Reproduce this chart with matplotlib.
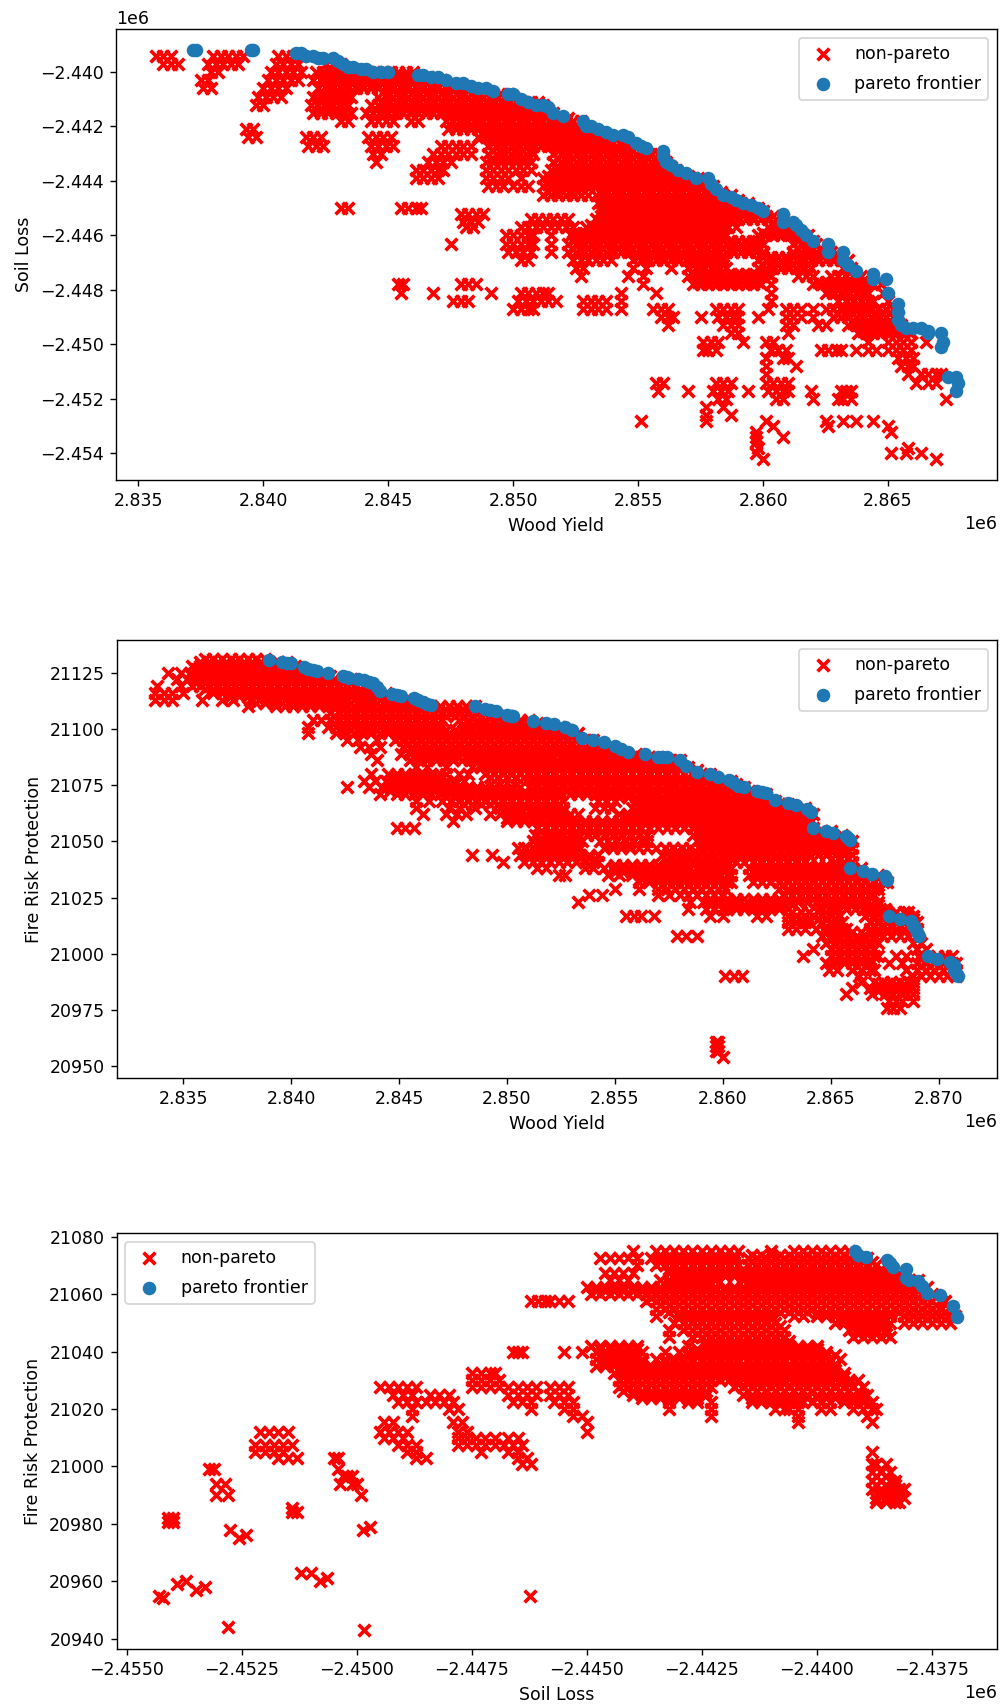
import numpy as np
import matplotlib.pyplot as plt

# values, kept as offsets to stay short
# panel 1: wood = 2.8e6 + v*100, soil = -2.4e6 - w*100
soil_levels_1 = [394, 397, 400, 403, 406, 409, 412, 415, 418, 421, 424, 427, 430, 433, 436, 439, 442, 445, 448, 450,
                 451, 452, 454, 455, 457, 460, 463, 466, 469, 472, 475, 478, 481, 484, 487, 490, 493, 496, 499, 502,
                 505, 508, 511, 514, 517, 520, 523, 526, 528, 530, 532, 534, 536, 538, 540, 542]
wood_rows_1 = [
    [357, 360, 363, 380, 383, 386, 389, 392, 406, 409, 412, 415],
    [360, 363, 366, 378, 381, 384, 387, 390, 405, 408, 411, 414, 425, 428, 431],
    [379, 382, 403, 406, 409, 412, 415, 421, 424, 427, 430, 433, 436, 439, 442, 445, 448, 451, 454, 457, 460],
    [375, 378, 402, 405, 408, 411, 414, 420, 423, 426, 429, 432, 435, 438, 441, 444, 447, 450, 453, 456, 459, 462, 465, 468, 471],
    [376, 379, 400, 403, 406, 409, 422, 425, 428, 431, 434, 437, 440, 443, 446, 449, 452, 455, 458, 461, 464, 467, 470, 473, 476, 479, 482],
    [398, 401, 404, 407, 420, 423, 426, 429, 432, 435, 446, 449, 452, 455, 458, 461, 464, 467, 470, 473, 476, 479, 482, 485, 488, 491, 494, 497, 500],
    [397, 400, 419, 422, 425, 428, 431, 434, 443, 446, 449, 452, 455, 458, 461, 464, 467, 470, 473, 476, 479, 482, 485, 488, 491, 494, 497, 500, 503, 506, 509, 512],
    [420, 423, 426, 429, 432, 435, 441, 444, 447, 450, 453, 456, 459, 462, 465, 468, 471, 474, 477, 480, 483, 486, 489, 492, 495, 498, 501, 504, 507, 510, 513, 516],
    [431, 434, 443, 446, 449, 452, 459, 462, 473, 476, 479, 482, 485, 488, 491, 494, 497, 500, 503, 506, 509, 512, 515, 518, 521, 524, 527],
    [393, 396, 474, 477, 480, 483, 486, 489, 492, 495, 498, 501, 504, 507, 510, 513, 516, 519, 522, 525, 528, 530],
    [394, 397, 417, 420, 423, 442, 445, 448, 451, 486, 489, 492, 495, 498, 501, 504, 507, 510, 513, 516, 519, 522, 525, 528, 531, 534, 537],
    [418, 421, 424, 443, 446, 449, 452, 471, 474, 477, 480, 483, 490, 493, 496, 499, 502, 505, 508, 511, 514, 517, 520, 523, 526, 529, 532, 535, 538, 541, 544, 546],
    [444, 447, 468, 471, 474, 477, 480, 483, 490, 493, 496, 499, 502, 505, 508, 516, 519, 522, 525, 528, 531, 534, 537, 540, 543, 546, 549, 552, 555, 558],
    [445, 466, 469, 472, 475, 489, 492, 495, 498, 501, 504, 507, 516, 519, 522, 525, 528, 531, 534, 537, 540, 543, 546, 549, 552, 555, 558, 561],
    [461, 464, 467, 470, 472, 489, 492, 495, 498, 501, 504, 507, 515, 518, 521, 524, 527, 530, 533, 536, 539, 542, 545, 548, 551, 554, 557, 560, 563, 565],
    [461, 464, 467, 470, 489, 492, 495, 498, 503, 512, 515, 518, 521, 524, 527, 530, 533, 536, 539, 542, 545, 548, 551, 554, 557, 560, 563, 566, 569, 572, 574],
    [490, 493, 496, 500, 503, 506, 512, 515, 518, 521, 524, 527, 530, 533, 536, 539, 542, 545, 548, 551, 554, 557, 560, 563, 566, 569, 572, 575, 578, 580],
    [512, 515, 518, 521, 524, 527, 530, 533, 536, 539, 542, 545, 548, 551, 554, 557, 560, 563, 566, 569, 572, 575, 578, 581, 584, 587],
    [534, 537, 540, 543, 546, 549, 552, 555, 558, 561, 564, 567, 570, 573, 576, 579, 582, 585, 588, 591, 594],
    [431, 434, 455, 458, 461, 463],
    [535, 538, 541, 544, 547, 550, 553, 556, 559, 562, 565, 568, 571, 574, 577, 580, 583, 586, 589, 592, 595, 598, 600],
    [479, 482, 485, 488],
    [507, 510, 513, 516, 519, 522, 533, 536, 539, 542, 545, 548, 551, 554, 557, 560, 563, 566, 569, 572, 575, 578, 581, 584, 587, 590, 593, 596, 599, 602, 605, 608],
    [480, 483, 486],
    [481, 484, 503, 506, 509, 512, 515, 518, 521, 524, 529, 532, 535, 538, 541, 544, 547, 550, 553, 556, 559, 562, 565, 568, 571, 574, 577, 580, 583, 586, 589, 602, 605, 608, 611],
    [497, 500, 503, 506, 508, 515, 523, 526, 529, 532, 535, 538, 541, 544, 547, 550, 553, 556, 559, 562, 565, 568, 571, 574, 577, 580, 583, 585, 598, 601, 604, 607, 610, 613, 616, 618],
    [475, 497, 500, 503, 506, 508, 515, 522, 525, 528, 531, 534, 537, 540, 543, 546, 549, 552, 555, 558, 561, 564, 567, 570, 573, 576, 579, 582, 585, 588, 591, 594, 597, 600, 612, 615, 618, 621],
    [498, 501, 504, 507, 515, 522, 525, 528, 531, 534, 537, 540, 543, 546, 549, 552, 555, 558, 561, 564, 567, 570, 573, 576, 579, 582, 585, 588, 591, 594, 597, 600, 612, 615, 618, 621, 624, 627],
    [503, 506, 524, 527, 530, 533, 536, 539, 548, 551, 554, 557, 560, 563, 566, 569, 572, 575, 578, 581, 584, 598, 601, 604, 607, 610, 613, 616, 619, 622, 625, 628, 631, 634],
    [525, 528, 548, 553, 563, 570, 573, 576, 579, 582, 585, 598, 601, 604, 607, 610, 613, 616, 619, 632, 635],
    [527, 546, 552, 570, 573, 576, 579, 582, 585, 588, 591, 594, 597, 600, 603, 614, 617, 620, 627, 630, 633, 636, 639],
    [454, 456, 479, 482, 485, 552, 572, 575, 578, 581, 584, 587, 590, 593, 596, 599, 603, 620, 623, 626, 629, 632, 635, 638, 641, 644, 647],
    [455, 468, 491, 503, 506, 509, 512, 514, 543, 557, 603, 625, 628, 631, 634, 637, 640, 642, 648],
    [476, 479, 482, 502, 505, 508, 511, 514, 517, 528, 531, 534, 537, 543, 603, 630, 633, 636, 639, 642, 644, 650],
    [500, 503, 506, 508, 528, 531, 534, 537, 543, 556, 559, 562, 581, 584, 587, 590, 602, 609, 612, 615, 620, 625, 628, 631, 634, 637, 640, 643, 646, 649, 652],
    [559, 562, 564, 575, 582, 585, 588, 590, 598, 609, 612, 615, 620, 628, 631, 634, 637, 640, 643, 646, 649, 652, 654],
    [562, 584, 587, 590, 609, 612, 622, 625, 634, 637, 640, 643, 646, 649, 652, 655],
    [587, 590, 610, 638, 641, 644, 647, 650, 653, 656, 659],
    [576, 579, 582, 592, 601, 604, 642, 650, 653, 656, 659, 665],
    [576, 578, 581, 603, 606, 609, 623, 626, 629, 631, 637, 642, 645, 650, 653, 656, 659],
    [601, 608, 610, 654, 657, 660],
    [601, 613, 655, 658, 660],
    [601, 658, 663, 666, 669, 671],
    [557, 560, 581, 584, 587, 601, 604, 607, 610, 661, 666, 669],
    [558, 570, 580, 583, 586, 594, 602, 605, 608, 610, 619, 631, 633, 635],
    [582, 585, 605, 608, 620, 630, 632, 635, 673],
    [584, 577],
    [577, 587],
    [551, 577, 601, 625, 632, 637, 644],
    [604, 626, 650],
    [597, 651],
    [608, 597],
    [597],
    [598, 658],
    [597, 651, 657, 663],
    [600, 669],
]
soil_dense_levels_1 = [402, 405, 408, 411, 414, 417, 420, 423, 426, 429, 432, 435, 438, 441, 444, 447, 450, 453, 456, 459, 462, 465, 468, 471, 474, 477, 480, 486, 489, 492, 495]
wood_dense_rows_1 = [
    [424, 427, 430, 433, 436, 439, 442, 445, 448, 451, 454, 457, 460, 463, 466],
    [425, 428, 431, 434, 437, 440, 443, 446, 449, 452, 455, 458, 461, 464, 467, 470, 473, 476, 479],
    [424, 427, 430, 433, 450, 453, 456, 459, 462, 465, 468, 471, 474, 477, 480, 483, 486, 489, 492, 495, 498],
    [423, 426, 429, 432, 447, 450, 453, 456, 459, 462, 465, 468, 471, 474, 477, 480, 483, 486, 489, 492, 495, 498, 501, 504, 507, 510],
    [423, 426, 429, 432, 445, 448, 451, 454, 457, 460, 463, 466, 469, 472, 475, 478, 481, 484, 487, 490, 493, 496, 499, 502, 505, 508, 511, 514],
    [477, 480, 483, 486, 489, 492, 495, 498, 501, 504, 507, 510, 513, 516, 519, 522],
    [477, 480, 483, 486, 489, 492, 495, 498, 501, 504, 507, 510, 513, 516, 519, 522, 525, 528],
    [488, 491, 494, 497, 500, 503, 506, 509, 512, 515, 518, 521, 524, 527, 530, 533],
    [492, 495, 498, 501, 504, 507, 510, 513, 516, 519, 522, 525, 528, 531, 534, 537, 540, 543],
    [492, 495, 498, 501, 504, 507, 518, 521, 524, 527, 530, 533, 536, 539, 542, 545, 548, 551],
    [492, 495, 498, 501, 504, 518, 521, 524, 527, 530, 533, 536, 539, 542, 545, 548, 551, 554, 557, 560],
    [518, 521, 524, 527, 530, 533, 536, 539, 542, 545, 548, 551, 554, 557, 560, 563],
    [514, 517, 520, 523, 526, 529, 532, 535, 538, 541, 544, 547, 550, 553, 556, 559, 562, 565, 568, 570],
    [514, 517, 520, 523, 526, 529, 532, 535, 538, 541, 544, 547, 550, 553, 556, 559, 562, 565, 568, 571, 574, 577],
    [514, 517, 520, 523, 526, 535, 538, 541, 544, 547, 550, 553, 556, 559, 562, 565, 568, 571, 574, 577, 580, 583],
    [536, 539, 542, 545, 548, 551, 554, 557, 560, 563, 566, 569, 572, 575, 578, 581, 584, 587, 590],
    [538, 541, 544, 547, 550, 553, 556, 559, 562, 565, 568, 571, 574, 577, 580, 583, 586, 589, 592, 595, 598],
    [535, 538, 541, 544, 547, 550, 553, 556, 559, 562, 565, 568, 571, 574, 577, 580, 583, 586, 589, 592, 595, 598, 601, 604],
    [531, 534, 537, 540, 543, 546, 549, 552, 555, 558, 561, 564, 567, 570, 573, 576, 579, 582, 584, 604, 607, 610],
    [525, 528, 531, 534, 537, 540, 543, 546, 549, 552, 555, 558, 561, 564, 567, 570, 573, 576, 579, 582, 600, 603, 606, 609, 612, 615],
    [524, 527, 530, 533, 536, 539, 542, 545, 548, 551, 554, 557, 560, 563, 566, 569, 572, 575, 578, 581, 584, 587, 590, 593, 596, 598, 614, 617, 620],
    [524, 527, 530, 533, 536, 539, 542, 545, 548, 551, 554, 557, 560, 563, 566, 569, 572, 575, 578, 581, 584, 587, 590, 593, 596, 598, 614, 617, 620, 623, 626],
    [550, 553, 556, 559, 562, 565, 568, 571, 574, 577, 580, 583, 600, 603, 606, 609, 612, 615, 618, 621, 624, 627, 630, 632],
    [572, 575, 578, 581, 584, 600, 603, 606, 609, 612, 615, 618],
    [572, 575, 578, 581, 584, 587, 590, 593, 596, 599, 602],
    [574, 577, 580, 583, 586, 589, 592, 595, 598, 622, 625, 628, 631, 634, 637, 640, 643],
    [627, 630, 633, 636, 639],
    [632, 635, 638, 641],
    [630, 633, 636, 639, 642, 645, 648],
    [636, 639, 642, 645, 648, 651, 654],
    [640, 643, 646, 649, 652, 655, 658],
]
pareto_wood_1 = [372, 373, 395, 396, 413, 415, 417, 420, 422, 424, 428, 430, 432, 434, 436, 439, 441, 444, 447, 450, 462, 464, 467, 470, 473, 477, 480,
                 483, 486, 489, 492, 498, 500, 503, 506, 509, 512, 514, 516, 520, 528, 529, 531, 534, 537, 540, 544, 546, 549, 551, 553, 560, 560, 561,
                 563, 566, 569, 573, 578, 579, 581, 584, 587, 589, 592, 595, 598, 600, 608, 608, 612, 613, 615, 617, 620, 626, 626, 632, 632, 634, 637,
                 644, 644, 649, 650, 654, 654, 654, 655, 657, 660, 663, 666, 666, 671, 672, 671, 674, 677, 678, 677]
pareto_soil_1 = [392, 392, 392, 392, 393, 393, 394, 394, 395, 395, 395, 396, 397, 398, 398, 399, 399, 400, 400, 400, 401, 401, 402, 402, 403, 404, 404,
                 405, 406, 406, 407, 408, 408, 410, 411, 412, 412, 413, 415, 416, 418, 420, 420, 421, 422, 423, 423, 424, 426, 427, 428, 429, 431, 433,
                 434, 436, 437, 439, 439, 441, 443, 445, 446, 447, 448, 449, 450, 451, 452, 455, 455, 456, 458, 460, 462, 463, 466, 466, 469, 471, 473,
                 474, 476, 476, 481, 485, 488, 491, 493, 494, 494, 494, 495, 496, 496, 499, 501, 512, 512, 514, 517]

# panel 2: wood = 2.8e6 + v*100, fire = 21000 + f
fire_levels_2 = [131, 128, 125, 122, 119, 116, 113, 110, 107, 104, 101, 98, 95, 92, 89, 86, 83, 80, 77, 74, 71, 68, 65, 62, 59, 56, 53, 50, 47, 44,
                 41, 38, 35, 32, 29, 26, 23, 20, 17, 14, 11, 8, 5, 2, -1, -4, -7, -10, -12.5, -15, -18, -21, -24, -39, -41, -43, -46]
wood_rows_2 = [
    [360, 364, 368, 372, 376, 380, 384, 388],
    [354, 358, 362, 366, 370, 374, 378, 382, 386, 390, 394, 398, 402],
    [343, 349, 353, 357, 361, 365, 369, 373, 377, 381, 385, 389, 393, 397, 401, 405, 409],
    [347, 352, 356, 360, 364, 368, 372, 376, 380, 384, 388, 392, 396, 400, 404, 408, 412, 416, 420, 424, 428],
    [338, 349, 354, 358, 362, 366, 370, 374, 378, 382, 386, 390, 394, 398, 402, 406, 410, 414, 418, 422, 426, 430, 434],
    [337, 341, 345, 350, 364, 368, 372, 376, 380, 384, 388, 392, 396, 400, 404, 408, 412, 416, 420, 424, 428, 432, 436, 440, 444],
    [337, 341, 345, 359, 368, 373, 381, 385, 389, 393, 397, 401, 405, 409, 413, 417, 421, 425, 429, 433, 437, 441, 445, 449, 453],
    [380, 393, 397, 401, 405, 409, 413, 417, 421, 425, 429, 433, 437, 441, 445, 449, 453, 457, 461, 465, 469, 473, 477, 481, 485],
    [418, 422, 426, 430, 434, 438, 442, 446, 450, 454, 458, 462, 466, 470, 474, 478, 482, 486, 490, 494],
    [410, 414, 418, 422, 426, 430, 434, 438, 442, 446, 450, 454, 458, 462, 466, 470, 478, 482, 486, 490, 494, 498, 502, 506, 510],
    [408, 417, 421, 425, 429, 433, 437, 441, 445, 449, 453, 457, 461, 465, 469, 480, 484, 488, 492, 496, 500, 504, 508, 512, 516, 520, 524],
    [408, 421, 425, 429, 433, 437, 441, 445, 449, 453, 457, 461, 465, 469, 473, 477, 481, 485, 489, 493, 497, 501, 505, 509, 513, 517, 521, 525, 529, 533],
    [426, 431, 440, 448, 452, 456, 460, 464, 468, 472, 476, 480, 484, 488, 492, 496, 500, 504, 508, 512, 516, 520, 524, 528, 532, 536, 540],
    [432, 436, 441, 452, 456, 460, 464, 468, 472, 476, 480, 484, 488, 492, 496, 500, 504, 508, 512, 516, 520, 524, 528, 532, 536, 540, 544, 548],
    [437, 451, 455, 459, 463, 467, 471, 475, 479, 483, 487, 491, 495, 499, 503, 507, 511, 515, 519, 523, 527, 531, 535, 539, 543, 547, 551, 555, 560],
    [440, 455, 459, 463, 467, 471, 475, 479, 483, 487, 491, 495, 499, 503, 507, 511, 515, 519, 523, 527, 531, 535, 539, 543, 547, 551, 555, 559, 563, 567, 571, 575, 580],
    [458, 463, 472, 484, 488, 492, 496, 500, 504, 508, 512, 516, 520, 524, 528, 532, 536, 540, 544, 548, 552, 556, 560, 564, 568, 572, 576, 580, 584],
    [437, 445, 449, 453, 457, 461, 465, 469, 472, 478, 482, 490, 494, 498, 502, 506, 510, 514, 518, 522, 526, 530, 534, 538, 542, 546, 550, 554, 558, 562, 566, 570, 574, 578, 582, 586, 590, 594],
    [434, 439, 444, 448, 452, 456, 460, 464, 468, 472, 476, 480, 512, 516, 520, 524, 528, 532, 536, 540, 544, 548, 552, 556, 560, 564, 568, 572, 576, 580, 584, 588, 592, 596, 600, 604],
    [426, 436, 442, 446, 450, 454, 458, 462, 466, 470, 474, 478, 482, 486, 490, 494, 498, 502, 506, 510, 514, 518, 522, 526, 530, 534, 538, 542, 546, 550, 554, 558, 562, 566, 570, 574, 578, 582, 586, 590, 594, 598, 602, 606, 610],
    [441, 449, 453, 457, 461, 465, 469, 473, 477, 481, 485, 489, 493, 497, 501, 505, 509, 513, 517, 521, 525, 529, 533, 537, 541, 545, 549, 553, 557, 561, 565, 569, 573, 577, 581, 585, 589, 593, 597, 601, 605, 609, 613, 617, 620],
    [458, 464, 470, 474, 478, 482, 486, 490, 494, 498, 502, 506, 510, 514, 518, 522, 526, 542, 546, 550, 560, 564, 568, 572, 576, 580, 584, 588, 592, 596, 600, 604, 608, 612, 616, 620, 624],
    [458, 473, 478, 485, 497, 501, 505, 509, 513, 517, 521, 526, 541, 545, 548, 558, 562, 566, 570, 574, 578, 582, 586, 590, 594, 598, 602, 606, 610, 614, 618, 622, 626, 630, 634, 638],
    [461, 472, 477, 481, 492, 497, 501, 505, 509, 513, 517, 521, 525, 529, 533, 552, 556, 560, 564, 568, 572, 576, 580, 584, 588, 592, 596, 600, 604, 608, 612, 616, 620, 624, 628, 632, 636, 640, 642],
    [475, 500, 504, 508, 512, 516, 520, 524, 528, 532, 536, 540, 544, 548, 552, 556, 560, 564, 568, 572, 576, 580, 584, 588, 592, 596, 600, 604, 608, 612, 616, 620, 624, 628, 632, 636, 640],
    [449, 453, 457, 514, 518, 522, 526, 530, 534, 538, 542, 546, 550, 554, 558, 562, 566, 570, 574, 578, 582, 586, 590, 594, 598, 602, 606, 610, 614, 618, 622, 626, 630, 634, 638, 642],
    [513, 517, 521, 525, 529, 533, 537, 541, 545, 549, 553, 557, 561, 565, 586, 590, 594, 598, 602, 606, 610, 614, 618, 622, 626, 630, 634, 638, 642, 646, 650, 655],
    [512, 516, 520, 524, 528, 532, 535, 543, 547, 551, 555, 559, 563, 565, 588, 592, 596, 600, 604, 608, 612, 616, 620, 624, 628, 632, 636, 640, 644, 648, 652, 656, 660],
    [505, 508, 512, 516, 520, 524, 528, 532, 534, 545, 549, 553, 557, 561, 565, 569, 573, 577, 581, 585, 589, 593, 597, 601, 605, 609, 613, 617, 621, 625, 629, 633, 637, 641, 645, 649, 653, 657, 660],
    [484, 493, 506, 510, 514, 518, 522, 526, 530, 534, 538, 542, 572, 576, 580, 584, 588, 592, 596, 600, 604, 608, 612, 616, 620, 624, 628, 632, 636, 640, 644, 648, 652, 656, 660],
    [498, 508, 512, 516, 520, 524, 528, 532, 536, 540, 542, 574, 578, 582, 586, 590, 594, 598, 602, 606, 610, 614, 618, 622, 626, 630, 634, 638, 652, 656, 660],
    [514, 518, 536, 540, 545, 549, 553, 557, 561, 565, 569, 573, 577, 581, 585, 589, 593, 597, 601, 604, 612, 616, 620, 624, 628, 632, 636, 640, 644, 648, 652, 656, 660, 664],
    [524, 527, 547, 552, 558, 562, 566, 570, 574, 578, 582, 586, 590, 594, 598, 602, 604, 612, 616, 620, 624, 628, 632, 636, 640, 644, 648, 652, 656, 660, 664, 668, 672],
    [561, 566, 570, 574, 578, 582, 586, 590, 594, 598, 602, 604, 614, 618, 622, 626, 630, 634, 638, 642, 646, 650, 654, 658, 662, 666, 670, 674, 676],
    [550, 561, 570, 574, 578, 582, 586, 590, 594, 598, 601, 626, 630, 634, 638, 642, 646, 650, 654, 658, 662, 666, 670, 672],
    [538, 544, 570, 575, 580, 584, 588, 592, 596, 600, 628, 632, 636, 640, 644, 648, 652, 656, 660, 664, 668, 670],
    [533, 585, 591, 595, 599, 603, 607, 611, 615, 619, 623, 627, 631, 635, 639, 643, 647, 651, 655, 659, 663, 667, 672],
    [584, 592, 596, 600, 602, 606, 610, 614, 618, 622, 626, 630, 645, 649, 653, 657, 661, 665, 669, 673, 675],
    [555, 559, 562, 568, 594, 600, 616, 620, 630, 634, 638, 642, 646, 650, 654, 666, 670, 674, 678, 682, 686, 688],
    [630, 634, 638, 640, 646, 650, 653, 655, 668, 672, 676, 680, 684, 688, 690],
    [630, 634, 638, 643, 647, 651, 655, 657, 668, 672, 676, 680, 684, 688, 690],
    [579, 583, 588, 646, 650, 654, 658, 662, 666, 670, 674, 678, 682, 686, 690],
    [648, 652, 656, 660, 664, 668, 672, 688, 692],
    [642, 650, 654, 658, 662, 666, 670, 690, 694],
    [637, 650, 654, 658, 662, 666, 670, 672, 680, 685, 691, 695, 699, 703, 706],
    [648, 652, 656, 660, 664, 668, 677, 683, 690, 694, 698, 702, 706, 708],
    [649, 653, 660, 664, 668, 670, 685, 690, 694, 698, 702, 706, 708],
    [601, 605, 609, 663, 688, 692, 696, 700, 704, 708],
    [664, 670, 674, 678, 682, 686, 688],
    [660, 668, 672, 676, 680, 684, 688],
    [657, 669, 675, 679, 683, 688],
    [677, 680, 683, 688],
    [676, 679, 682],
    [597, 598],
    [597, 598],
    [597, 598],
    [600],
]
fire_dense_levels_2 = [129.5, 126.5, 123.5, 120.5, 117.5, 114.5, 111.5, 108.5, 105.5, 102.5, 99.5, 96.5, 93.5, 90.5, 87.5, 84.5, 81.5, 78.5, 75.5, 72.5, 69.5, 66.5,
                       63.5, 60.5, 57.5, 54.5, 51.5, 48.5, 45.5, 42.5, 39.5, 36.5, 33.5, 30.5, 27.5, 24.5, 21.5, 18.5, 15.5, 12.5, 9.5, 6.5, 3.5, -2.5, -5.5, -13.5, -16.5]
wood_dense_rows_2 = [
    [358, 362, 366, 370, 374, 378, 382, 386, 390, 394, 398],
    [356, 360, 364, 368, 372, 376, 380, 384, 388, 392, 396, 400, 404],
    [354, 358, 362, 366, 370, 374, 378, 382, 386, 390, 394, 398, 402, 406, 410, 414, 418],
    [356, 360, 364, 368, 372, 376, 380, 384, 388, 392, 396, 400, 404, 408, 412, 416, 420, 424, 428],
    [360, 364, 368, 372, 376, 380, 384, 388, 392, 396, 400, 404, 408, 412, 416, 420, 424, 428, 432, 436],
    [372, 376, 380, 384, 388, 392, 396, 400, 404, 408, 412, 416, 420, 424, 428, 432, 436, 440, 444, 448],
    [384, 388, 392, 396, 400, 404, 408, 412, 416, 420, 424, 428, 432, 436, 440, 444, 448, 452, 456, 460],
    [424, 428, 432, 436, 440, 444, 448, 452, 456, 460, 464, 468, 472, 476, 480, 484, 488],
    [420, 424, 428, 432, 436, 440, 444, 448, 452, 456, 460, 464, 468, 472, 476, 480, 484, 488, 492, 496, 500],
    [420, 424, 428, 432, 436, 440, 444, 448, 452, 456, 460, 464, 468, 482, 486, 490, 494, 498, 502, 506, 510, 514],
    [424, 428, 432, 436, 440, 444, 448, 452, 456, 460, 464, 468, 472, 476, 480, 484, 488, 492, 496, 500, 504, 508, 512, 516, 520, 524, 528],
    [450, 454, 458, 462, 466, 470, 474, 478, 482, 486, 490, 494, 498, 502, 506, 510, 514, 518, 522, 526, 530],
    [454, 458, 462, 466, 470, 474, 478, 482, 486, 490, 494, 498, 502, 506, 510, 514, 518, 522, 526, 530, 534, 538, 542],
    [456, 460, 464, 468, 472, 476, 480, 484, 488, 492, 496, 500, 504, 508, 512, 516, 520, 524, 528, 532, 536, 540, 544, 548, 552],
    [458, 462, 466, 470, 474, 478, 482, 486, 490, 494, 498, 502, 506, 510, 514, 518, 522, 526, 530, 534, 538, 542, 546, 550, 554, 558, 562, 566, 570],
    [488, 492, 496, 500, 504, 508, 512, 516, 520, 524, 528, 532, 536, 540, 544, 548, 552, 556, 560, 564, 568, 572, 576],
    [492, 496, 500, 504, 508, 512, 516, 520, 524, 528, 532, 536, 540, 544, 548, 552, 556, 560, 564, 568, 572, 576, 580, 584, 588],
    [448, 452, 456, 460, 464, 468, 492, 496, 500, 504, 508, 512, 516, 520, 524, 528, 532, 536, 540, 544, 548, 552, 556, 560, 564, 568, 572, 576, 580, 584, 588, 592, 596],
    [448, 452, 456, 460, 464, 468, 472, 476, 514, 518, 522, 526, 530, 534, 538, 542, 546, 550, 554, 558, 562, 566, 570, 574, 578, 582, 586, 590, 594, 598, 602, 606],
    [446, 450, 454, 458, 462, 466, 470, 474, 478, 482, 486, 490, 494, 498, 502, 512, 516, 520, 524, 528, 532, 536, 540, 544, 548, 552, 556, 560, 564, 568, 572, 576, 580, 584, 588, 592, 596, 600, 604, 608, 612],
    [472, 476, 480, 484, 488, 492, 496, 500, 504, 508, 512, 516, 520, 524, 544, 548, 552, 556, 560, 564, 568, 572, 576, 580, 584, 588, 592, 596, 600, 604, 608, 612, 616, 620],
    [480, 484, 488, 492, 496, 500, 504, 508, 512, 516, 520, 524, 562, 566, 570, 574, 578, 582, 586, 590, 594, 598, 602, 606, 610, 614, 618, 622, 626, 630],
    [498, 502, 506, 510, 514, 518, 522, 526, 560, 564, 568, 572, 576, 580, 584, 588, 592, 596, 600, 604, 608, 612, 616, 620, 624, 628, 632, 636],
    [500, 504, 508, 512, 516, 520, 524, 528, 556, 560, 564, 568, 572, 576, 580, 584, 588, 592, 596, 600, 604, 608, 612, 616, 620, 624, 628, 632, 636, 640],
    [524, 528, 532, 536, 540, 544, 548, 552, 556, 560, 564, 568, 572, 576, 580, 584, 588, 592, 596, 600, 604, 608, 612, 616, 620, 624, 628, 632, 636],
    [516, 520, 524, 528, 532, 536, 540, 544, 548, 552, 556, 560, 590, 594, 598, 602, 606, 610, 614, 618, 622, 626, 630, 634, 638, 642, 646, 650],
    [516, 520, 524, 528, 532, 592, 596, 600, 604, 608, 612, 616, 620, 624, 628, 632, 636, 640, 644, 648, 652, 656],
    [516, 520, 524, 528, 532, 548, 552, 556, 560, 592, 596, 600, 604, 608, 612, 616, 620, 624, 628, 632, 636, 640, 644, 648, 652, 656],
    [510, 514, 518, 522, 526, 530, 575, 579, 583, 587, 591, 595, 599, 603, 607, 611, 615, 619, 623, 627, 631, 635, 639, 643, 647, 651, 655],
    [510, 514, 518, 522, 526, 530, 534, 538, 576, 580, 584, 588, 592, 596, 600, 604, 608, 612, 616, 620, 624, 628, 632, 636, 654, 658],
    [550, 554, 558, 562, 566, 570, 574, 578, 582, 586, 590, 594, 598, 602, 616, 620, 624, 628, 632, 636, 640, 644, 648, 652, 656],
    [550, 554, 558, 562, 566, 570, 574, 578, 582, 586, 590, 594, 598, 616, 620, 624, 628, 632, 636, 640, 644, 648, 652, 656, 660, 664],
    [562, 566, 570, 574, 578, 582, 586, 590, 594, 598, 616, 620, 624, 628, 632, 636, 640, 644, 648, 652, 656, 660, 664, 668, 672],
    [572, 576, 580, 584, 588, 592, 596, 600, 628, 632, 636, 640, 644, 648, 652, 656, 660, 664, 668, 672],
    [630, 634, 638, 642, 646, 650, 654, 658, 662, 666],
    [594, 598, 602, 606, 610, 614, 618, 622, 626, 630, 634, 638, 642, 646, 650, 654, 658, 662, 666],
    [594, 598, 602, 606, 610, 614, 618, 622, 626, 648, 652, 656, 660, 664, 668, 672],
    [632, 636, 640, 644, 648, 652, 668, 672, 676, 680, 684, 686],
    [632, 636, 640, 644, 648, 652, 670, 674, 678, 682, 686, 688],
    [670, 674, 678, 682, 686, 688],
    [648, 652, 656, 660, 664, 668, 672, 676, 680, 684, 688],
    [650, 654, 658, 662, 666, 670],
    [652, 656, 660, 664, 668],
    [652, 656, 660, 664, 668, 692, 696, 700, 704],
    [692, 696, 700, 704],
    [672, 676, 680, 684],
    [672, 676, 680, 684],
]
pareto_wood_2 = [390, 396, 398, 400, 406, 408, 410, 412, 417, 424, 426, 427, 431, 434, 436, 438, 440, 441, 447, 449, 451, 457, 459, 461, 463, 465, 485, 490, 492, 495,
                 500, 502, 503, 512, 518, 522, 527, 530, 535, 540, 545, 550, 553, 556, 564, 570, 572, 574, 580, 583, 588, 594, 598, 603, 605, 607, 610, 616, 618, 620,
                 624, 630, 634, 639, 641, 642, 648, 651, 657, 658, 659, 659, 665, 669, 675, 676, 677, 682, 687, 688, 689, 690, 691, 695, 699, 705, 707, 707, 708, 709]
pareto_fire_2 = [130.6, 129.6, 129.4, 129.2, 127.7, 126.8, 126.2, 125.5, 125, 123.7, 123, 122.5, 122, 121.5, 121, 120.3, 118.5, 117, 115.5, 115, 114.7, 113.6, 112.8, 111.8, 111, 110.4, 110, 108.9, 108.3, 107.8,
                 106.2, 105.8, 105.5, 103.7, 102.5, 102, 100.7, 99.3, 95.9, 95.1, 94, 92.4, 91, 89.9, 88.9, 87.7, 87.5, 87.3, 86, 83.7, 80.9, 80, 78.8, 77.3, 76, 74.8, 74, 72.2, 72, 71.4,
                 68.2, 67, 66, 64.5, 63.2, 55.9, 54.8, 53.7, 52.2, 51.5, 50.7, 38, 36.6, 35.6, 34.5, 33, 17, 15.6, 14.4, 13, 11.5, 9.5, 8, -1, -2.3, -3.6, -5, -7, -8.5, -9.7]

# panel 3: soil = -2.46e6 + u*100, fire = 21000 + f
fire_levels_3 = [75, 72.5, 70, 67.5, 65, 62.5, 60, 57.5, 55, 52.5, 50, 47.5, 45, 42, 40, 37.5, 35, 32.5, 30, 27.5, 25, 22.5, 20, 17.5, 15.5, 12, 10, 7.5, 5, 3, 1,
                 -1, -2, -3.5, -5, -6, -8, -10, -11, -12.5, -14.5, -16, -18, -19.5, -21, -22, -24, -25, -37, -39, -40, -41, -42, -43, -45, -46, -56, -57]
soil_rows_3 = [
    [160, 165, 167, 169, 171, 173, 175, 177, 179, 181, 183, 190, 195, 197, 199, 201, 203, 205, 207],
    [153, 155, 157, 159, 161, 164, 166, 168, 170, 172, 174, 176, 178, 180, 182, 185, 187, 189, 191, 193, 195, 197, 199, 201, 203, 205, 207, 209, 211],
    [161, 165, 167, 169, 171, 173, 175, 177, 179, 181, 183, 185, 187, 189, 191, 193, 195, 197, 199, 201, 203, 205, 207, 209, 211, 213, 215],
    [154, 156, 158, 160, 168, 170, 172, 174, 176, 178, 180, 182, 184, 186, 188, 190, 192, 194, 196, 198, 200, 202, 204, 206, 208, 210, 212, 214, 216, 218],
    [155, 157, 159, 166, 168, 170, 172, 174, 176, 178, 184, 186, 188, 190, 192, 194, 196, 198, 200, 202, 204, 206, 208, 210, 212, 214, 216, 218, 220, 222],
    [150, 152, 154, 156, 158, 160, 162, 164, 166, 168, 170, 172, 174, 176, 178, 180, 182, 184, 186, 188, 190, 192, 194, 196, 198, 200, 202, 204, 206, 208, 210, 212, 214, 216, 218, 220, 222, 224],
    [151, 153, 155, 157, 159, 161, 163, 165, 167, 169, 171, 173, 175, 177, 179, 181, 183, 185, 187, 189, 191, 193, 195, 197, 199, 201, 203, 205, 207, 209, 211, 213, 215, 217, 219, 221, 223, 225],
    [138, 139.5, 141, 142, 144, 146, 163, 165, 167, 169, 171, 173, 175, 177, 179, 181, 183, 185, 187, 189, 191, 193, 195, 197, 199, 201, 203, 205, 207, 209, 211, 213, 215, 217, 219, 221, 223, 225, 227, 228],
    [165, 167, 169, 171, 173, 175, 177, 179, 181, 183, 185, 187, 189, 191, 193, 195, 197, 199, 201, 203, 205, 207, 209, 211, 213, 215, 217, 219, 221, 223, 225, 227, 229],
    [165, 170, 172, 174, 176, 178, 180, 182, 184, 186, 188, 190, 195, 197, 200, 202, 204, 206, 208, 210, 212, 214, 216, 219, 221, 223, 225, 227, 229, 230],
    [169, 171, 173, 175, 177, 179, 181, 183, 185, 187, 189, 191, 204, 206, 208, 210, 212, 214, 216, 219, 221, 223, 225, 227, 229],
    [168, 171, 173, 175, 177, 179, 181, 183, 185, 187, 189, 191, 193, 207, 209, 211, 213, 215],
    [168, 173, 175, 177, 179, 181, 183, 185, 187, 189, 191, 193, 208, 210, 212, 214, 216],
    [151, 153, 155, 157, 159, 161, 172, 176, 178, 180, 182, 184, 186, 188, 190, 192, 194, 196, 198, 200],
    [134, 135, 136, 145, 149, 152, 154, 156, 158, 160, 162, 167, 170, 172, 174, 176, 178, 180, 182, 184, 186, 188, 190, 192, 194, 196, 198, 200, 202],
    [152, 154, 156, 158, 160, 162, 165, 167, 169, 171, 173, 175, 177, 179, 181, 183, 185, 187, 189, 191, 193, 195, 197, 199, 201, 203, 205],
    [152, 154, 156, 158, 160, 162, 164, 166, 168, 170, 172, 174, 176, 178, 180, 182, 184, 186, 188, 190, 192, 194, 196, 198, 200, 202, 204],
    [125, 127, 129, 130, 156, 158, 160, 162, 164, 166, 168, 170, 172, 174, 176, 178, 180, 182, 184, 186, 188, 190, 192, 194, 196, 198, 200, 202, 204, 206],
    [125, 127, 129, 131, 157, 159, 161, 163, 165, 167, 169, 171, 173, 175, 177, 179, 181, 183, 185, 187, 189, 191, 193, 195, 197, 199, 201, 203, 205, 207, 209],
    [105, 107, 109, 111, 113, 125, 127, 129, 131, 133, 135, 137, 139, 142, 144, 146, 157, 159, 161, 163, 165, 167, 169, 171, 173, 175, 177, 182, 184, 186, 188, 190, 192, 194, 196, 198, 200, 202, 204, 206, 208, 210],
    [108, 110, 112, 116, 118, 120, 133, 135, 137, 139, 142, 144, 146, 160, 162, 164, 166, 168, 170, 172, 174, 176, 184, 186, 188, 190, 192, 194, 196, 198, 200, 202, 204, 206, 208, 210, 211],
    [109, 111, 113, 115, 117, 119, 121, 134, 136, 138, 143, 145, 147, 168, 172, 174, 177, 186, 188, 190, 192, 194, 196, 197, 199, 201, 203, 206, 208, 210, 212],
    [112, 120, 122, 138, 145, 147, 168, 177, 191, 193, 194, 196, 201, 203, 208, 210, 212, 213],
    [112, 147, 149, 177, 196, 211],
    [106, 108, 121, 123, 150, 196, 212],
    [79, 81, 83, 85, 105, 107, 109, 111, 122, 124, 150],
    [106, 108, 110, 122, 124, 126, 128, 130, 133, 135],
    [78, 80, 82, 84, 86, 109, 111, 113, 122, 124, 126, 128, 130, 132, 134, 136],
    [78, 80, 82, 84, 111, 113, 127, 133, 135, 212],
    [83, 85, 87, 95, 96, 113, 115, 135, 137],
    [136, 138, 212, 213, 215],
    [68, 69, 96],
    [212, 214, 216],
    [97, 98, 99],
    [212, 214, 216, 217],
    [69.5, 71.3, 96.3, 99, 100],
    [212, 214, 216, 218, 219],
    [69.5, 72, 101],
    [213, 215, 217, 219],
    [213, 215, 217, 218],
    [86],
    [86, 87],
    [59, 60],
    [59, 60],
    [103],
    [72.5, 101.4],
    [76],
    [74.4],
    [88, 90],
    [93.6],
    [63, 92],
    [61],
    [67],
    [65],
    [57, 137.6],
    [58],
    [72],
    [101.5],
]
fire_dense_levels_3 = [73.75, 71.25, 68.75, 66.25, 63.75, 61.25, 58.75, 56.25, 53.75, 51.25, 48.75, 46.25, 43.75, 41, 38.75, 36.25, 33.75, 31.25, 28.75, 26.25, 23.75, -3.5, -6.5, -9.5]
soil_dense_rows_3 = [
    [166, 168, 170, 172, 174, 176, 178, 180, 182, 186, 188, 190, 192, 194, 196, 198, 200, 202, 204, 206, 208],
    [166, 168, 170, 172, 174, 176, 178, 180, 182, 186, 188, 190, 192, 194, 196, 198, 200, 202, 204, 206, 208, 210, 212],
    [168, 170, 172, 174, 176, 178, 180, 182, 184, 186, 188, 190, 192, 194, 196, 198, 200, 202, 204, 206, 208, 210, 212, 214, 216],
    [170, 172, 174, 176, 178, 180, 182, 184, 186, 188, 190, 192, 194, 196, 198, 200, 202, 204, 206, 208, 210, 212, 214, 216, 218],
    [168, 170, 172, 174, 176, 186, 188, 190, 192, 194, 196, 198, 200, 202, 204, 206, 208, 210, 212, 214, 216, 218, 220],
    [152, 154, 156, 158, 160, 162, 164, 166, 168, 170, 172, 174, 176, 178, 180, 182, 184, 186, 188, 190, 192, 194, 196, 198, 200, 202, 204, 206, 208, 210, 212, 214, 216, 218, 220, 222],
    [164, 166, 168, 170, 172, 174, 176, 178, 180, 182, 184, 186, 188, 190, 192, 194, 196, 198, 200, 202, 204, 206, 208, 210, 212, 214, 216, 218, 220, 222, 224],
    [166, 168, 170, 172, 174, 176, 178, 180, 182, 184, 186, 188, 190, 192, 194, 196, 198, 200, 202, 204, 206, 208, 210, 212, 214, 216, 218, 220, 222, 224, 226],
    [168, 170, 172, 174, 176, 178, 180, 182, 184, 186, 188, 190, 192, 194, 196, 198, 200, 202, 204, 206, 208, 210, 212, 214, 216, 218, 220, 222, 224, 226, 228],
    [172, 174, 176, 178, 180, 182, 184, 186, 188, 190, 206, 208, 210, 212, 214, 220, 222, 224, 226, 228],
    [172, 174, 176, 178, 180, 182, 184, 186, 188, 190, 192, 208, 210, 212, 214],
    [174, 176, 178, 180, 182, 184, 186, 188, 190, 192, 209, 211, 213, 215],
    [176, 178, 180, 182, 184, 186, 188, 190, 192, 194],
    [153, 155, 157, 159, 161, 174, 176, 178, 180, 182, 184, 186, 188, 190, 192, 194, 196, 198, 200],
    [154, 156, 158, 160, 172, 174, 176, 178, 180, 182, 184, 186, 188, 190, 192, 194, 196, 198, 200, 202, 204],
    [154, 156, 158, 160, 162, 167, 169, 171, 173, 175, 177, 179, 181, 183, 185, 187, 189, 191, 193, 195, 197, 199, 201, 203],
    [158, 160, 162, 164, 166, 168, 170, 172, 174, 176, 178, 180, 182, 184, 186, 188, 190, 192, 194, 196, 198, 200, 202, 204],
    [158, 160, 162, 164, 166, 168, 170, 172, 174, 176, 178, 180, 182, 184, 186, 188, 190, 192, 194, 196, 198, 200, 202, 204, 206],
    [158, 160, 162, 164, 166, 168, 170, 172, 174, 176, 183, 185, 187, 189, 191, 193, 195, 197, 199, 201, 203, 205, 207],
    [158, 160, 162, 164, 166, 168, 170, 172, 174, 176, 185, 187, 189, 191, 193, 195, 197, 199, 201, 203, 205, 207, 209],
    [162, 164, 166, 168, 170, 172, 174, 186, 188, 190, 192, 194, 196, 198, 200, 202, 204, 206, 208, 210],
    [213, 215],
    [213, 215, 217],
    [214, 216, 218],
]
pareto_soil_3 = [208.3, 209, 210.8, 215.3, 215.9, 216.6, 219.4, 219.4, 220, 222, 223, 224, 226.9, 229.6, 230.5]
pareto_fire_3 = [75, 73.8, 72.8, 72, 70.9, 69.4, 68.9, 65.6, 65, 64.7, 62.7, 60.4, 59.7, 55.8, 52]


def flatten(levels, rows):
    xs = np.concatenate([np.asarray(r, dtype=float) for r in rows])
    ys = np.repeat(np.asarray(levels, dtype=float), [len(r) for r in rows])
    return xs, ys


def draw(rect, x, y, px, py, xlabel, ylabel, xlim, ylim, loc):
    ax = fig.add_axes(rect)
    ax.scatter(x, y, marker="x", c="r", s=46, linewidths=2.1, label="non-pareto")
    ax.scatter(px, py, s=46, label="pareto frontier")
    ax.set_xlabel(xlabel)
    ax.set_ylabel(ylabel)
    ax.set_xlim(*xlim)
    ax.set_ylim(*ylim)
    ax.legend(loc=loc, labelspacing=0.7)
    return ax


W, H = 1002, 1706
fig = plt.figure(figsize=(W / 125, H / 125), dpi=125)


def box(left, top, right, bottom):
    return [left / W, 1 - bottom / H, (right - left) / W, (bottom - top) / H]


v1, w1 = flatten(soil_levels_1 + soil_dense_levels_1, wood_rows_1 + wood_dense_rows_1)
draw(box(116, 29, 997, 480), 2.8e6 + v1 * 100, -2.4e6 - w1 * 100,
     2.8e6 + np.array(pareto_wood_1) * 100, -2.4e6 - np.array(pareto_soil_1) * 100,
     "Wood Yield", "Soil Loss", (2834108, 2869360), (-2454980, -2438420), "upper right")

v2, f2 = flatten(fire_levels_2 + fire_dense_levels_2, wood_rows_2 + wood_dense_rows_2)
draw(box(117, 640, 997, 1078), 2.8e6 + v2 * 100, 21000 + f2,
     2.8e6 + np.array(pareto_wood_2) * 100, 21000 + np.array(pareto_fire_2),
     "Wood Yield", "Fire Risk Protection", (2831940, 2872700), (20944.8, 21139.5), "upper right")

u3, f3 = flatten(fire_levels_3 + fire_dense_levels_3, soil_rows_3 + soil_dense_rows_3)
draw(box(116.5, 1233, 997, 1649), -2.46e6 + u3 * 100, 21000 + f3,
     -2.46e6 + np.array(pareto_soil_3) * 100, 21000 + np.array(pareto_fire_3),
     "Soil Loss", "Fire Risk Protection", (-2455220, -2436080), (20936.4, 21081.3), "upper left")

fig.savefig("out.png", dpi=125)
